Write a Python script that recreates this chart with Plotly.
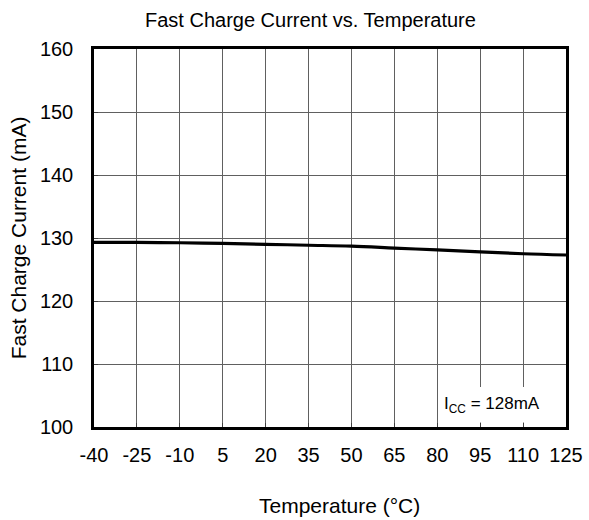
import plotly.graph_objects as go

temperature = [-40, -25, -10, 5, 20, 35, 50, 65, 80, 95, 110, 125]
current_ma = [129.3, 129.3, 129.25, 129.15, 129.0, 128.85, 128.7, 128.4, 128.1, 127.8, 127.5, 127.3]
x_ticks = [-40, -25, -10, 5, 20, 35, 50, 65, 80, 95, 110, 125]
y_ticks = [100, 110, 120, 130, 140, 150, 160]

fig = go.Figure()
fig.add_trace(go.Scatter(x=temperature, y=current_ma, mode="lines",
                         line=dict(color="black", width=3.2, shape="spline"),
                         showlegend=False, hoverinfo="skip"))

font_family = "Liberation Sans"
W, H = 589, 520
fig.update_layout(
    width=W, height=H,
    margin=dict(l=94, r=23, t=49, b=93),
    paper_bgcolor="white", plot_bgcolor="white",
    font=dict(family=font_family, color="black"),
    title=dict(text="Fast Charge Current vs. Temperature", x=145 / W, xanchor="left", xref="container",
               y=1 - 19.5 / H, yanchor="middle", yref="container", font=dict(size=20, color="black")),
    xaxis=dict(range=[-40, 125], tickvals=x_ticks, ticktext=[str(v) for v in x_ticks],
               automargin=False,
               showgrid=True, gridcolor="#606060", gridwidth=1,
               showline=True, linecolor="black", linewidth=2.5, mirror=True,
               ticks="inside", ticklen=4, tickcolor="#404040", tickwidth=1,
               ticklabelstandoff=8,
               tickfont=dict(size=20), zeroline=False),
    yaxis=dict(range=[100, 160], tickvals=y_ticks,
               automargin=False,
               showgrid=True, gridcolor="#606060", gridwidth=1,
               showline=True, linecolor="black", linewidth=2.5, mirror=True,
               ticks="inside", ticklen=4, tickcolor="#404040", tickwidth=1,
               ticklabelstandoff=14,
               tickfont=dict(size=20), zeroline=False,
               title=dict(text="Fast Charge Current (mA)", font=dict(size=21), standoff=8)),
    shapes=[dict(type="rect", xref="paper", yref="paper", x0=0.733, x1=0.994, y0=0.012, y1=0.106,
                 fillcolor="white", line=dict(width=0), layer="above")],
    annotations=[
        dict(x=0.949, y=0.058, xref="paper", yref="paper", xanchor="right",
             yanchor="middle", showarrow=False,
             text="I<sub>CC</sub> = 128mA", font=dict(size=17, color="black")),
        dict(x=0.521, y=-0.207, xref="paper", yref="paper", xanchor="center",
             yanchor="middle", showarrow=False,
             text="Temperature (°C)", font=dict(size=21, color="black")),
    ],
)

fig.write_html("out.html", config={"displayModeBar": False},
               post_script="document.body.style.margin='0';document.body.style.overflow='hidden';")
